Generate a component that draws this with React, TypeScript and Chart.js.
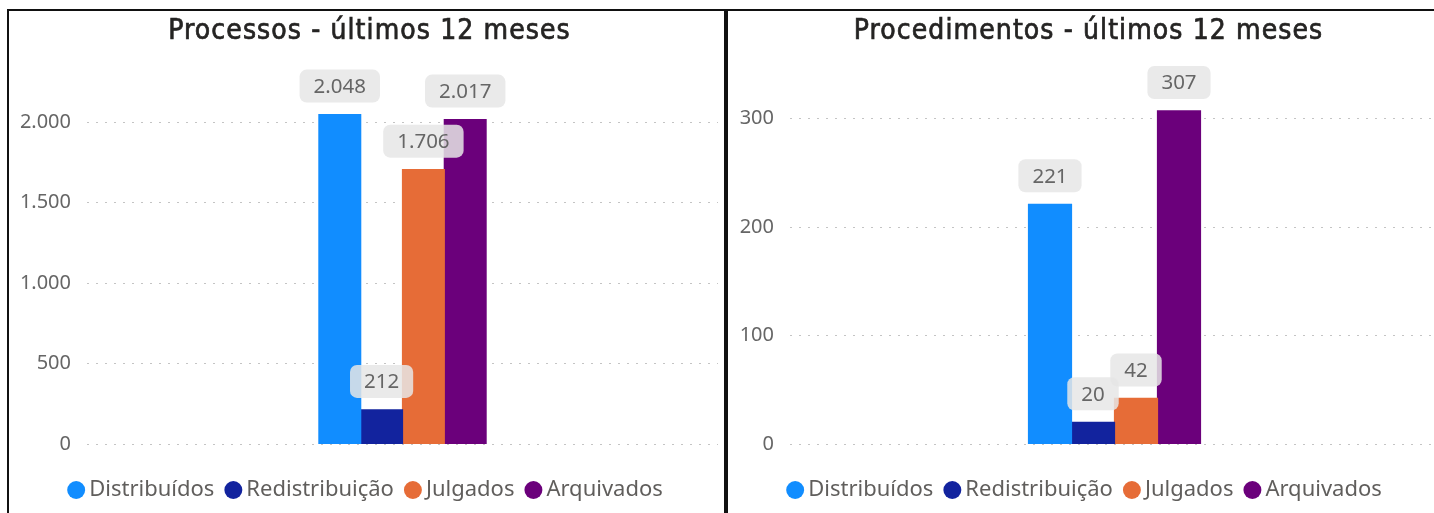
import React, { useEffect, useRef } from "react";
import { Chart, registerables } from "chart.js";

Chart.register(...registerables);

const categories = ["Distribuídos", "Redistribuição", "Julgados", "Arquivados"];
const colors = ["#118DFF", "#12239E", "#E66C37", "#6B007B"];
const processosValues = [2048, 212, 1706, 2017];
const procedimentosValues = [221, 20, 42, 307];
const processosTicks = [0, 500, 1000, 1500, 2000];
const procedimentosTicks = [0, 100, 200, 300];
const processosTitle = "Processos - últimos 12 meses";
const procedimentosTitle = "Procedimentos - últimos 12 meses";

const fmt = (v: number) => String(v).replace(/\B(?=(\d{3})+(?!\d))/g, ".");

const TEXT_FONT = '"Noto Sans", "Open Sans", sans-serif';
const TITLE_FONT = '"DejaVu Sans Condensed", "DejaVu Sans", sans-serif';
const TITLE_SIZE = 28;

const boxLabelPlugin = {
  id: "boxLabels",
  afterDatasetsDraw(chart: any) {
    const ctx = chart.ctx as CanvasRenderingContext2D;
    ctx.save();
    ctx.font = `20.5px ${TEXT_FONT}`;
    chart.data.datasets.forEach((ds: any, i: number) => {
      const meta = chart.getDatasetMeta(i);
      meta.data.forEach((el: any, j: number) => {
        const text = fmt(ds.data[j]);
        const tw = ctx.measureText(text).width;
        const w = tw + 28;
        const h = 33;
        const x = el.x - w / 2;
        const y = el.y - 12 - h;
        ctx.fillStyle = "rgba(230,230,230,0.85)";
        ctx.beginPath();
        (ctx as any).roundRect(x, y, w, h, 7);
        ctx.fill();
        ctx.fillStyle = "#666666";
        ctx.textAlign = "center";
        ctx.textBaseline = "middle";
        ctx.fillText(text, el.x, y + h / 2 + 1);
      });
    });
    ctx.restore();
  },
};

const spacedTitlePlugin = {
  id: "spacedTitle",
  afterDraw(chart: any) {
    const tb = chart.titleBlock;
    if (!tb) return;
    const ctx = chart.ctx as any;
    const text = chart.options.plugins.title.text;
    const pad = chart.options.plugins.title.padding;
    ctx.save();
    ctx.font = `${TITLE_SIZE}px ${TITLE_FONT}`;
    ctx.letterSpacing = "1.1px";
    ctx.fillStyle = "#252423";
    ctx.strokeStyle = "#252423";
    ctx.lineWidth = 0.7;
    ctx.textAlign = "center";
    ctx.textBaseline = "middle";
    const x = (tb.left + tb.right) / 2 + 1;
    const y = tb.top + pad.top + (TITLE_SIZE * 1.2) / 2;
    ctx.fillText(text, x, y);
    ctx.strokeText(text, x, y);
    ctx.restore();
  },
};

function makeConfig(
  title: string,
  values: number[],
  ticks: number[],
  max: number,
  axisWidth: number,
  leftPad: number,
  rightPad: number
): any {
  return {
    type: "bar",
    data: {
      labels: [""],
      datasets: categories.map((c, i) => ({
        label: c,
        data: [values[i]],
        backgroundColor: colors[i],
        borderWidth: 0,
        inflateAmount: 0.6,
        categoryPercentage: 0.265,
        barPercentage: 1,
      })),
    },
    options: {
      responsive: false,
      animation: false,
      layout: { padding: { left: leftPad, right: rightPad, top: 0, bottom: 2 } },
      plugins: {
        title: {
          display: true,
          text: title,
          color: "rgba(0,0,0,0)",
          font: { family: TITLE_FONT, size: TITLE_SIZE, weight: "normal", lineHeight: 1.2 },
          padding: { top: 3.5, bottom: 7.5 },
        },
        legend: {
          position: "bottom",
          labels: {
            usePointStyle: true,
            pointStyle: "circle",
            boxWidth: 4,
            boxHeight: 12.7,
            padding: 17,
            color: "#605E5C",
            font: { family: TEXT_FONT, size: 22 },
          },
        },
        tooltip: { enabled: false },
      },
      scales: {
        x: {
          display: true,
          grid: { display: false },
          border: { display: false },
          ticks: { display: false },
          afterFit(s: any) {
            s.height = 18;
          },
        },
        y: {
          min: 0,
          max,
          afterFit(s: any) {
            s.width = axisWidth;
          },
          afterBuildTicks(s: any) {
            s.ticks = ticks.map((v) => ({ value: v }));
          },
          border: { display: false, dash: [2, 7] },
          grid: { color: "#c4c4c4", lineWidth: 1, drawTicks: false },
          ticks: {
            padding: 16,
            color: "#666666",
            font: { family: TEXT_FONT, size: 20 },
            callback: (v: any) => fmt(Number(v)),
          },
        },
      },
    },
    plugins: [boxLabelPlugin, spacedTitlePlugin],
  };
}

function Panel(props: {
  left: number;
  width: number;
  canvasWidth: number;
  title: string;
  values: number[];
  ticks: number[];
  max: number;
  axisWidth: number;
  leftPad: number;
  rightPad: number;
}) {
  const ref = useRef<HTMLCanvasElement>(null);
  useEffect(() => {
    if (!ref.current) return;
    const chart = new Chart(
      ref.current,
      makeConfig(props.title, props.values, props.ticks, props.max, props.axisWidth, props.leftPad, props.rightPad)
    );
    return () => chart.destroy();
  }, []);
  return (
    <div
      style={{
        position: "absolute",
        left: props.left,
        top: 9,
        width: props.width,
        height: 530,
        border: "2px solid #111",
        boxSizing: "border-box",
        background: "#fff",
      }}
    >
      <canvas
        ref={ref}
        width={props.canvasWidth}
        height={502}
        style={{ position: "absolute", left: 0, top: 0, width: props.canvasWidth, height: 502 }}
      />
    </div>
  );
}

export default function App() {
  return (
    <div
      style={{
        position: "absolute",
        left: 0,
        top: 0,
        width: 1434,
        height: 513,
        overflow: "hidden",
        background: "#fff",
      }}
    >
      <Panel
        left={7}
        width={719}
        canvasWidth={715}
        title={processosTitle}
        values={processosValues}
        ticks={processosTicks}
        max={2415}
        axisWidth={68}
        leftPad={10}
        rightPad={6}
      />
      <Panel
        left={726}
        width={740}
        canvasWidth={719}
        title={procedimentosTitle}
        values={procedimentosValues}
        ticks={procedimentosTicks}
        max={358}
        axisWidth={54}
        leftPad={8}
        rightPad={8}
      />
    </div>
  );
}
